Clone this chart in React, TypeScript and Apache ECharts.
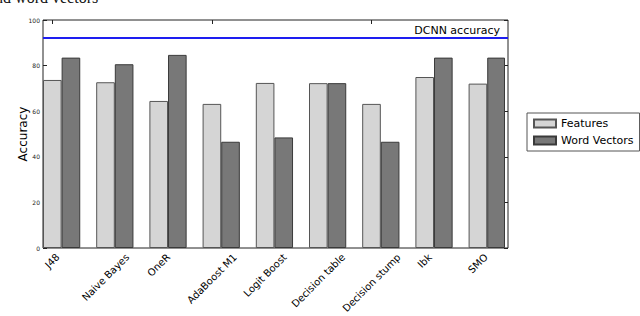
import React, { useEffect, useRef } from "react";
import * as echarts from "echarts";

const categories = ["J48", "Naive Bayes", "OneR", "AdaBoost M1", "Logit Boost", "Decision table", "Decision stump", "Ibk", "SMO"];
const featuresValues = [73.7, 72.7, 64.5, 63.2, 72.4, 72.3, 63.2, 75.0, 72.1];
const wordVectorValues = [83.5, 80.6, 84.7, 46.6, 48.5, 72.3, 46.6, 83.5, 83.5];
const dcnnAccuracy = 92.2;
const yTicks = [0, 20, 40, 60, 80, 100];

const FONT = "DejaVu Sans";
const LABEL_SIZE = 10;

function measure(text: string, font: string): number {
  const c = document.createElement("canvas");
  const ctx = c.getContext("2d");
  if (!ctx) return text.length * 6;
  ctx.font = font;
  return ctx.measureText(text).width;
}

export default function App() {
  const ref = useRef<HTMLDivElement>(null);
  useEffect(() => {
    if (!ref.current) return;
    const chart = echarts.init(ref.current, undefined, { renderer: "svg" });
    const unit = 53.2;
    const left0 = 43;
    const right0 = 508;
    const top = 20;
    const bottom = 248;
    const barW = unit * 0.35;
    const left1 = left0 + barW / 2 - unit / 2;
    const caption = {
      type: "text",
      id: "caption",
      x: -12,
      y: 5,
      style: { text: "and word vectors", fontSize: 16, fontFamily: "Liberation Serif", align: "left", verticalAlign: "bottom", fill: "#111" },
    };
    chart.setOption({
      animation: false,
      backgroundColor: "#ffffff",
      textStyle: { fontFamily: FONT },
      graphic: [caption],
      legend: {
        data: ["Features", "Word Vectors"],
        orient: "vertical",
        left: 527,
        top: 113,
        borderColor: "#555",
        borderWidth: 1,
        borderRadius: 0,
        padding: [5, 6, 5, 6],
        itemWidth: 22,
        itemHeight: 8,
        itemGap: 6,
        icon: "rect",
        textStyle: { fontFamily: FONT, fontSize: 11, color: "#000" },
      },
      grid: [
        { left: left0, top, width: right0 - left0, height: bottom - top, show: true, borderColor: "#222", borderWidth: 1, backgroundColor: "transparent", containLabel: false, outerBoundsMode: "none" },
        { left: left1, top, width: unit * categories.length, height: bottom - top, show: false, containLabel: false, outerBoundsMode: "none" },
      ],
      xAxis: [
        { gridIndex: 0, type: "value", min: 0, max: (right0 - left0) / unit, show: false },
        {
          gridIndex: 1,
          type: "category",
          data: categories,
          position: "bottom",
          axisLine: { show: false },
          axisTick: { show: true, inside: true, alignWithLabel: true, length: 4, lineStyle: { color: "#222" } },
          axisLabel: { show: false },
        },
        {
          gridIndex: 1,
          type: "category",
          data: categories,
          position: "top",
          axisLine: { show: false },
          axisTick: { show: true, inside: true, alignWithLabel: true, length: 4, lineStyle: { color: "#222" } },
          axisLabel: { show: false },
        },
      ],
      yAxis: [
        {
          gridIndex: 0,
          type: "value",
          min: 0,
          max: 100,
          interval: 20,
          position: "left",
          name: "Accuracy",
          nameLocation: "middle",
          nameGap: 14,
          nameMoveOverlap: false,
          nameTextStyle: { fontSize: 12, color: "#000", fontFamily: FONT },
          axisLine: { show: false },
          axisTick: { show: true, inside: true, length: 4, lineStyle: { color: "#222" } },
          axisLabel: { fontSize: 6, color: "#222", margin: 3, fontFamily: FONT, formatter: (v: number) => (yTicks.includes(v) ? String(v) : "") },
          splitLine: { show: false },
        },
        {
          gridIndex: 0,
          type: "value",
          min: 0,
          max: 100,
          interval: 20,
          position: "right",
          axisLine: { show: false },
          axisTick: { show: true, inside: true, length: 4, lineStyle: { color: "#222" } },
          axisLabel: { show: false },
          splitLine: { show: false },
        },
        { gridIndex: 1, type: "value", min: 0, max: 100, show: false },
      ],
      series: [
        {
          name: "spacer",
          type: "bar",
          xAxisIndex: 1,
          yAxisIndex: 2,
          data: categories.map(() => "-"),
          barWidth: barW,
          barGap: "0%",
        },
        {
          name: "Features",
          type: "bar",
          xAxisIndex: 1,
          yAxisIndex: 2,
          data: featuresValues,
          barWidth: barW,
          barGap: "0%",
          itemStyle: { color: "#d5d5d5", borderColor: "#555", borderWidth: 1 },
        },
        {
          name: "Word Vectors",
          type: "bar",
          xAxisIndex: 1,
          yAxisIndex: 2,
          data: wordVectorValues,
          barWidth: barW,
          barGap: "0%",
          itemStyle: { color: "#787878", borderColor: "#3a3a3a", borderWidth: 1 },
        },
        {
          name: "DCNN",
          type: "line",
          xAxisIndex: 0,
          yAxisIndex: 0,
          data: [],
          markLine: {
            silent: true,
            symbol: "none",
            data: [{ yAxis: dcnnAccuracy }],
            lineStyle: { color: "#1e1ef0", width: 2, type: "solid" },
            label: { show: true, position: "insideEndTop", formatter: "DCNN accuracy", fontSize: 11, color: "#000", fontFamily: FONT, distance: [8, 2] },
          },
        },
      ],
    });
    // Category tick labels, placed from the axis's own pixel positions, rotated 45° and
    // centred under each tick the way matplotlib does it.
    const axisY = chart.convertToPixel({ yAxisIndex: 2 }, 0) as number;
    const labels = categories.map((c, i) => {
      const tx = chart.convertToPixel({ xAxisIndex: 1 }, c) as number;
      const w = measure(c, `${LABEL_SIZE}px "${FONT}"`);
      const half = 0.354 * (w + 9.5);
      return {
        type: "text",
        id: "xl" + i,
        x: tx,
        y: axisY + 4 + half,
        rotation: Math.PI / 4,
        style: { text: c, fontSize: LABEL_SIZE, fontFamily: FONT, align: "center", verticalAlign: "middle", fill: "#000" },
      };
    });
    chart.setOption({ graphic: [caption, ...labels] });
    return () => chart.dispose();
  }, []);
  return <div ref={ref} style={{ position: "fixed", left: 0, top: 0, width: 640, height: 316 }} />;
}
